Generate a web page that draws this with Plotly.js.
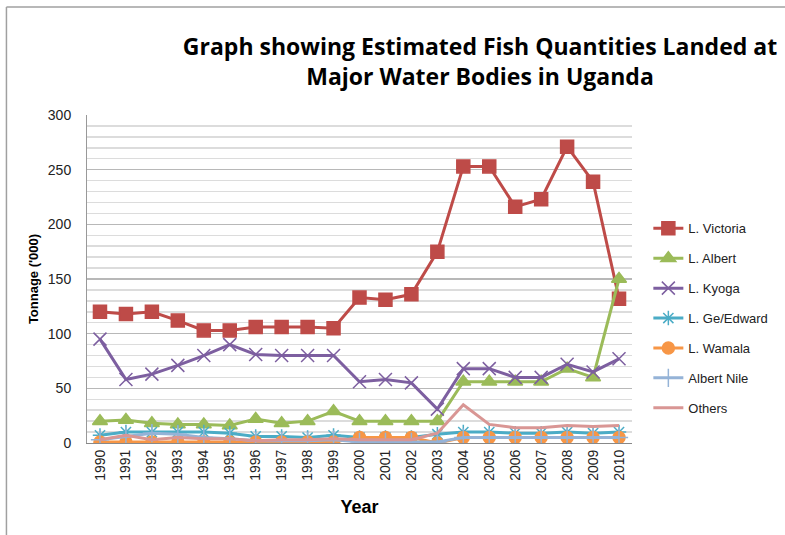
<!DOCTYPE html>
<html>
<head>
<meta charset="utf-8">
<script src="https://cdn.plot.ly/plotly-3.0.1.min.js"></script>
<style>html,body{margin:0;padding:0;background:#fff;}#chart{width:785px;height:535px;}</style>
</head>
<body>
<div id="chart"></div>
<script>
const years = ["1990","1991","1992","1993","1994","1995","1996","1997","1998","1999","2000","2001","2002","2003","2004","2005","2006","2007","2008","2009","2010"];
const victoria = [120,118,120,112,103,103,106,106,106,105,133,131,136,175,253,253,216,223,271,239,132];
const albert   = [20,21,18,17,17,16,22,18,20,29,20,20,20,20,56,56,56,56,68,60,150];
const kyoga    = [95,58,63,71,80,90,81,80,80,80,56,58,55,31,68,68,60,60,72,65,77];
const geEdward = [7,10,10,10,10,9,6,6,5,7,5,5,5,8,10,10,9,9,10,9,10];
const wamala   = [1,1,1,1,1,1,1,1,1,1,5,5,5,0,5,5,5,5,5,5,5];
const albertNile = [3,6,9,8,5,4,2,2,2,3,1,1,1,1,5,5,5,5,5,5,5];
const others   = [3,7,3,5,4,4,2,3,3,4,3,3,3,9,35,17,14,14,16,15,16];

const seriesNames = ["L. Victoria","L. Albert","L. Kyoga","L. Ge/Edward","L. Wamala","Albert Nile","Others"];
const seriesData = [victoria, albert, kyoga, geEdward, wamala, albertNile, others];
const colors = ["#BE4B48","#9BBB59","#7D5FA0","#4BACC6","#F79646","#95B3D7","#D99694"];
const symbols = ["square","triangle-up","x-thin-open","asterisk-open","circle","cross-thin-open","circle"];
const sizes = [13,13,13,12,12,13,0];

const traces = seriesNames.map((n,i)=>({
  x: years, y: seriesData[i], name: n, type: 'scatter',
  mode: sizes[i] > 0 ? 'lines+markers' : 'lines',
  legendgroup: 'g'+i,
  line: {color: colors[i], width: 3},
  marker: {symbol: symbols[i], size: sizes[i], color: colors[i], line: {color: colors[i], width: 1.5}}
}));

const layout = {
  width: 785, height: 535,
  margin: {l: 87, r: 150, t: 115, b: 92},
  paper_bgcolor: '#ffffff', plot_bgcolor: '#ffffff',
  font: {family: 'Liberation Sans, Arial, sans-serif', size: 12, color: '#333'},
  title: {
    text: '<b>Graph showing Estimated Fish Quantities Landed at<br>Major Water Bodies in Uganda</b>',
    font: {family: 'Open Sans, sans-serif', size: 23, color: '#000'},
    xref: 'container', x: 480/785, xanchor: 'center',
    yref: 'container', y: 1 - 55/535, yanchor: 'middle'
  },
  xaxis: {
    type: 'category', tickangle: -90, range: [-0.5, 20.5],
    showgrid: false, showline: true, linecolor: '#888', ticks: '',
    tickfont: {size: 14, color: '#222'},
    title: {text: '<b>Year</b>', font: {size: 18, color: '#000'}, standoff: 20},
    fixedrange: true
  },
  yaxis: {
    range: [0, 300], dtick: 50, tick0: 0,
    showgrid: true, gridcolor: '#b8b8b8', gridwidth: 1.2,
    minor: {dtick: 10, showgrid: true, gridcolor: '#dcdcdc', gridwidth: 1.5},
    showline: true, linecolor: '#999', ticks: '',
    zeroline: false,
    tickfont: {size: 14, color: '#222'},
    ticklabelstandoff: 12,
    title: {text: '<b>Tonnage (\'000)</b>', font: {size: 13, color: '#000'}, standoff: 6}
  },
  legend: {
    x: 1.03, xanchor: 'left', y: 0.70, yanchor: 'top',
    font: {size: 13, color: '#222'},
    traceorder: 'grouped', tracegroupgap: 10,
    bgcolor: 'rgba(0,0,0,0)'
  },
  shapes: [
    {type: 'line', xref: 'paper', yref: 'paper', x0: (6-87)/548, x1: (6-87)/548, y0: (443-535)/328, y1: (443-7)/328, line: {color: '#a0a0a0', width: 1.5}},
    {type: 'line', xref: 'paper', yref: 'paper', x0: (6-87)/548, x1: (790-87)/548, y0: (443-7)/328, y1: (443-7)/328, line: {color: '#a0a0a0', width: 1.5}}
  ],
  showlegend: true
};

Plotly.newPlot('chart', traces, layout, {staticPlot: true});
</script>
</body>
</html>
